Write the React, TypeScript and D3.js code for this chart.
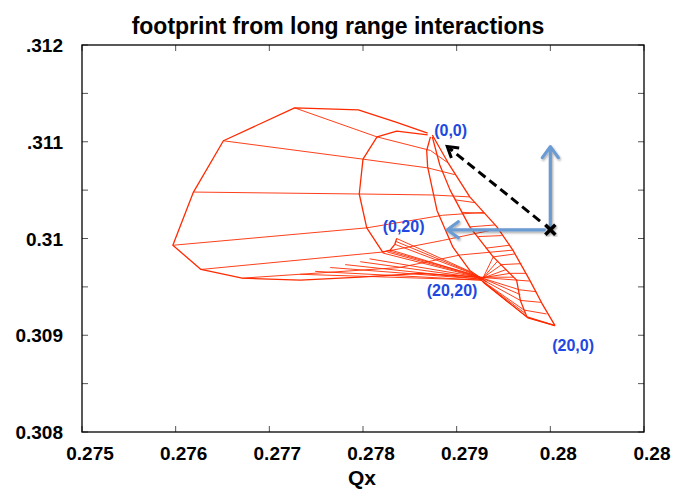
import React from "react";
import * as d3 from "d3";

// axis ticks
const xTicks = [0.275, 0.276, 0.277, 0.278, 0.279, 0.28, 0.281];
const xTickLabels = ["0.275", "0.276", "0.277", "0.278", "0.279", "0.28", "0.28"];
const yTicks = [0.308, 0.309, 0.31, 0.311, 0.312];
const yTickLabels = ["0.308", "0.309", "0.31", ".311", ".312"];
const yMinorTicks = [0.3085, 0.3095, 0.3105, 0.3115];

// footprint mesh, [Qx, Qy]
const ringOuter = [
  [0.27869, 0.31109], [0.27836, 0.3112], [0.27795, 0.31133], [0.27727, 0.31135],
  [0.27651, 0.31101], [0.27619, 0.31048], [0.27597, 0.30993], [0.27627, 0.30968],
  [0.27671, 0.30959], [0.27733, 0.30957], [0.27797, 0.3096], [0.27861, 0.30964],
  [0.27925, 0.3096],
];
const ringInner = [
  [0.27869, 0.31107], [0.27836, 0.31111], [0.27815, 0.31105], [0.278, 0.31082],
  [0.27796, 0.31046], [0.27804, 0.31011], [0.27821, 0.30986], [0.27829, 0.30988],
  [0.27834, 0.30994], [0.27836, 0.31],
];
const ringMid = [
  [0.27872, 0.31105], [0.27868, 0.31091], [0.27869, 0.31074], [0.27879, 0.31029],
  [0.27896, 0.30991], [0.27914, 0.30967], [0.27932, 0.30955],
];
const bandInner = [
  [0.27874, 0.31105], [0.27882, 0.31076], [0.27893, 0.3105], [0.27914, 0.31012],
  [0.27939, 0.30981], [0.27964, 0.30957], [0.27968, 0.30936], [0.27975, 0.30919],
  [0.28005, 0.3091],
];
const bandOuter = [
  [0.27874, 0.31107], [0.27891, 0.31078], [0.27914, 0.31043], [0.27943, 0.31012],
  [0.2796, 0.30988], [0.27978, 0.30957], [0.27991, 0.30933], [0.28005, 0.3091],
];
const radials = [
  [[0.27727, 0.31135], [0.27815, 0.31105], [0.27872, 0.31091], [0.27891, 0.31078]],
  [[0.27651, 0.31101], [0.278, 0.31082], [0.27869, 0.31073], [0.27898, 0.31066]],
  [[0.27619, 0.31048], [0.27796, 0.31046], [0.27873, 0.31045], [0.27914, 0.31043]],
  [[0.27597, 0.30993], [0.27804, 0.31011], [0.27885, 0.31024], [0.27929, 0.31027]],
  [[0.27627, 0.30968], [0.27821, 0.30986], [0.27885, 0.30998], [0.27944, 0.3101]],
  [[0.27671, 0.30959], [0.27839, 0.3097], [0.27904, 0.30983], [0.2796, 0.30988]],
];
const hatches = [
  [[0.27898, 0.3104], [0.2792, 0.31037]],
  [[0.27906, 0.31027], [0.2793, 0.31026]],
  [[0.27914, 0.31012], [0.27941, 0.31014]],
  [[0.27923, 0.31002], [0.27948, 0.31003]],
  [[0.27931, 0.3099], [0.27956, 0.30993]],
  [[0.27939, 0.30981], [0.27962, 0.30984]],
  [[0.27948, 0.30973], [0.27969, 0.30974]],
  [[0.27957, 0.30964], [0.27974, 0.30964]],
  [[0.27964, 0.30957], [0.27978, 0.30956]],
  [[0.27967, 0.30947], [0.27985, 0.30945]],
  [[0.27968, 0.30936], [0.2799, 0.30934]],
  [[0.27972, 0.30926], [0.27996, 0.30922]],
];
const fanLines = [
  [[0.27836, 0.31], [0.27914, 0.30966], [0.27975, 0.30919]],
  [[0.27835, 0.30997], [0.27915, 0.30965], [0.27974, 0.30922]],
  [[0.27834, 0.30994], [0.27916, 0.30964], [0.27972, 0.30926]],
  [[0.2783, 0.30988], [0.27919, 0.30962], [0.27968, 0.30936]],
  [[0.27828, 0.30987], [0.2792, 0.30962], [0.27968, 0.30942]],
  [[0.27826, 0.30986], [0.27921, 0.30961], [0.27967, 0.30947]],
  [[0.27821, 0.30985], [0.27923, 0.3096], [0.27964, 0.30957]],
  [[0.27807, 0.30979], [0.27924, 0.3096], [0.27961, 0.3096]],
  [[0.27797, 0.30976], [0.27925, 0.30959], [0.27957, 0.30964]],
  [[0.27781, 0.30973], [0.27925, 0.30958], [0.27953, 0.30968]],
  [[0.27765, 0.3097], [0.27926, 0.30958], [0.27948, 0.30973]],
  [[0.27749, 0.30966], [0.27926, 0.30957], [0.27944, 0.30977]],
  [[0.27733, 0.30963], [0.27927, 0.30957], [0.27939, 0.30981]],
];
const edgeLow = [[0.27928, 0.30955], [0.27976, 0.30918], [0.28005, 0.3091]];

// annotations
const cornerLabels = ["(0,0)", "(0,20)", "(20,20)", "(20,0)"];
const cornerLabelPos = [[0.27876, 0.31106], [0.27821, 0.31007], [0.27868, 0.30941], [0.28002, 0.30884]];
const bareTune = [0.28, 0.31009];
const arrowTips = [[0.28, 0.31095], [0.2789, 0.31009]];
const dashedArrow = [[0.27989, 0.31018], [0.2789, 0.31095]];

const W = 677;
const H = 490;
const margin = { top: 45, right: 33, bottom: 58, left: 82 };

const App = () => {
  const svgRef = React.useRef(null);

  React.useEffect(() => {
    const svg = d3.select(svgRef.current);
    svg.selectAll("*").remove();

    const x = d3.scaleLinear().domain([0.275, 0.281]).range([margin.left, W - margin.right]);
    const y = d3.scaleLinear().domain([0.308, 0.312]).range([H - margin.bottom, margin.top]);
    const font = "'Liberation Sans', Arial, Helvetica, sans-serif";

    const defs = svg.append("defs");
    const f = defs.append("filter").attr("id", "shadow").attr("x", "-20%").attr("y", "-20%").attr("width", "140%").attr("height", "140%");
    f.append("feDropShadow").attr("dx", 1).attr("dy", 1.5).attr("stdDeviation", 1.2).attr("flood-opacity", 0.35);

    // title
    svg.append("text")
      .attr("x", 338).attr("y", 34)
      .attr("text-anchor", "middle")
      .style("font-family", font).style("font-weight", "bold").style("font-size", "23px")
      .text("footprint from long range interactions");

    // ticks
    const g = svg.append("g").attr("stroke", "#555").attr("stroke-width", 1);
    xTicks.forEach((t) => {
      g.append("line").attr("x1", x(t)).attr("x2", x(t)).attr("y1", y(0.308)).attr("y2", y(0.308) - 6);
      g.append("line").attr("x1", x(t)).attr("x2", x(t)).attr("y1", y(0.312)).attr("y2", y(0.312) + 6);
    });
    yTicks.concat(yMinorTicks).forEach((t) => {
      g.append("line").attr("x1", x(0.275)).attr("x2", x(0.275) + 6).attr("y1", y(t)).attr("y2", y(t));
      g.append("line").attr("x1", x(0.281)).attr("x2", x(0.281) - 6).attr("y1", y(t)).attr("y2", y(t));
    });

    svg.append("g").selectAll("text").data(xTicks).join("text")
      .attr("x", (d) => x(d) + 8).attr("y", H - margin.bottom + 28)
      .attr("text-anchor", "middle")
      .style("font-family", font).style("font-weight", "bold").style("font-size", "19px")
      .text((d, i) => xTickLabels[i]);
    svg.append("g").selectAll("text").data(yTicks).join("text")
      .attr("x", 63).attr("y", (d) => y(d) + 7)
      .attr("text-anchor", "end")
      .style("font-family", font).style("font-weight", "bold").style("font-size", "19px")
      .text((d, i) => yTickLabels[i]);

    svg.append("text")
      .attr("x", 362).attr("y", 485)
      .attr("text-anchor", "middle")
      .style("font-family", font).style("font-weight", "bold").style("font-size", "21px")
      .text("Qx");

    // mesh
    const line = d3.line().x((d) => x(d[0])).y((d) => y(d[1]));
    const red = "#ff2a00";
    const mesh = svg.append("g").attr("fill", "none").attr("stroke", red).attr("stroke-linejoin", "round");
    [ringOuter, ringInner, ringMid, bandInner, bandOuter, edgeLow].forEach((p) => {
      mesh.append("path").attr("d", line(p)).attr("stroke-width", 1.3);
    });
    radials.concat(hatches, fanLines).forEach((p) => {
      mesh.append("path").attr("d", line(p)).attr("stroke-width", 0.9);
    });

    // frame
    svg.append("rect")
      .attr("x", x(0.275)).attr("y", y(0.312))
      .attr("width", x(0.281) - x(0.275)).attr("height", y(0.308) - y(0.312))
      .attr("fill", "none").attr("stroke", "#000").attr("stroke-width", 1.3);

    // arrows
    const blue = "#6b9bd2";
    const bx = x(bareTune[0]);
    const by = y(bareTune[1]);
    const arr = svg.append("g").attr("fill", "none").attr("stroke", blue).attr("stroke-width", 3.2)
      .attr("stroke-linecap", "round").attr("stroke-linejoin", "round").attr("filter", "url(#shadow)");
    const tv = [x(arrowTips[0][0]), y(arrowTips[0][1])];
    const th = [x(arrowTips[1][0]), y(arrowTips[1][1])];
    arr.append("line").attr("x1", bx).attr("y1", by - 4).attr("x2", tv[0]).attr("y2", tv[1] + 2);
    arr.append("path").attr("d", `M${tv[0] - 8},${tv[1] + 11}L${tv[0]},${tv[1]}L${tv[0] + 8},${tv[1] + 11}`);
    arr.append("line").attr("x1", bx - 6).attr("y1", by).attr("x2", th[0] + 2).attr("y2", th[1]);
    arr.append("path").attr("d", `M${th[0] + 11},${th[1] - 8}L${th[0]},${th[1]}L${th[0] + 11},${th[1] + 8}`);

    // dashed arrow
    const d0 = [x(dashedArrow[0][0]), y(dashedArrow[0][1])];
    const d1 = [x(dashedArrow[1][0]), y(dashedArrow[1][1])];
    const ang = Math.atan2(d1[1] - d0[1], d1[0] - d0[0]);
    const hl = 12;
    const h1 = [d1[0] - hl * Math.cos(ang - 0.55), d1[1] - hl * Math.sin(ang - 0.55)];
    const h2 = [d1[0] - hl * Math.cos(ang + 0.55), d1[1] - hl * Math.sin(ang + 0.55)];
    svg.append("line")
      .attr("x1", d0[0]).attr("y1", d0[1]).attr("x2", d1[0] + 3 * Math.cos(ang + Math.PI)).attr("y2", d1[1] + 3 * Math.sin(ang + Math.PI))
      .attr("stroke", "#000").attr("stroke-width", 3).attr("stroke-dasharray", "9,5");
    svg.append("path")
      .attr("d", `M${h1[0]},${h1[1]}L${d1[0]},${d1[1]}L${h2[0]},${h2[1]}`)
      .attr("fill", "none").attr("stroke", "#000").attr("stroke-width", 3).attr("stroke-linejoin", "miter");

    // bare tune marker
    svg.append("path")
      .attr("d", `M${bx - 5},${by - 5}L${bx + 5},${by + 5}M${bx - 5},${by + 5}L${bx + 5},${by - 5}`)
      .attr("stroke", "#000").attr("stroke-width", 3.5).attr("filter", "url(#shadow)");

    // corner labels
    svg.append("g").selectAll("text").data(cornerLabelPos).join("text")
      .attr("x", (d) => x(d[0])).attr("y", (d) => y(d[1]))
      .attr("fill", "#2148e0")
      .style("font-family", font).style("font-weight", "bold").style("font-size", "16px")
      .text((d, i) => cornerLabels[i]);
  }, []);

  return (
    <svg
      ref={svgRef}
      width={W}
      height={H}
      style={{ position: "absolute", left: 0, top: 0, background: "#fff" }}
    />
  );
};

export default App;
